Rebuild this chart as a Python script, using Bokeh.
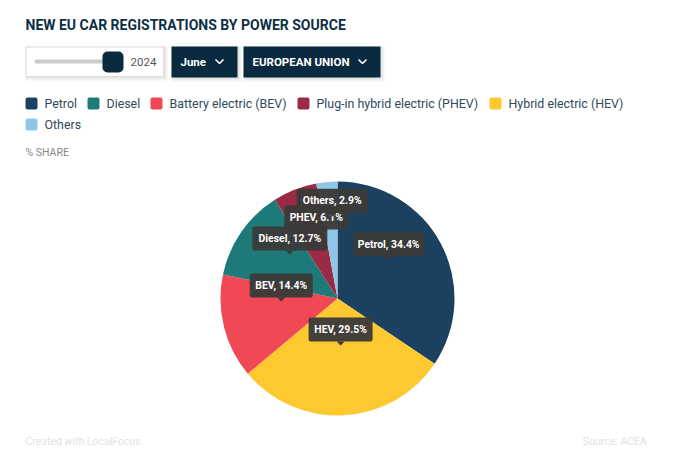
import numpy as np
from bokeh.core.properties import value
from bokeh.plotting import figure
from bokeh.embed import file_html
from bokeh.resources import INLINE
from bokeh.models import ColumnDataSource, Range1d

# clockwise from 12 o'clock
slices = ["Petrol", "HEV", "BEV", "Diesel", "PHEV", "Others"]
shares = [34.4, 29.5, 14.4, 12.7, 6.1, 2.9]
slice_colors = ["#1b4060", "#fdc830", "#f04854", "#1d7a78", "#9b2b45", "#8fc5e8"]

legend_names = ["Petrol", "Diesel", "Battery electric (BEV)",
                "Plug-in hybrid electric (PHEV)", "Hybrid electric (HEV)", "Others"]
legend_colors = ["#1b4060", "#1d7a78", "#f04854", "#9b2b45", "#fdc830", "#8fc5e8"]

FONT = "Roboto"
NAVY = "#0a2a40"
TIP = "#3a3a38"

p = figure(width=660, height=454, output_backend="svg", toolbar_location=None,
           x_range=Range1d(0, 660), y_range=Range1d(-454, 0),
           min_border=0, outline_line_color=None)
p.axis.visible = False
p.grid.visible = False


def label(x, y, txt, color, size, style="normal", align="left"):
    # y is in page pixels from the top, the range is negative so the pie keeps its angles
    p.text(x=[x], y=[-y], text=[txt], text_color=color, text_font=value(FONT),
           text_font_size=f"{size}px", text_font_style=style,
           text_align=align, text_baseline="middle")


def box(left, right, top, bottom, color, radius=0, **kw):
    p.quad(left=[left], right=[right], top=[-top], bottom=[-bottom], fill_color=color,
           line_color=kw.pop("line_color", None), border_radius=radius, **kw)


def chevron(x, y):
    p.line([x - 4, x, x + 4], [-y + 2, -y - 2, -y + 2], line_color="white", line_width=1.6)


label(25, 24, "NEW EU CAR REGISTRATIONS BY POWER SOURCE", "#0d2f44", 14, "bold")

# controls
for d in (4, 2):
    box(25, 163 + d, 46, 76 + d, "#000000", fill_alpha=0.05)
    box(171, 237 + d, 46, 77 + d, "#000000", fill_alpha=0.05)
    box(243, 380 + d, 46, 77 + d, "#000000", fill_alpha=0.05)
box(25.5, 163, 46.5, 76, "white", line_color="#dddddd")
box(34, 108, 59, 63, "#cccccc", radius=2)
box(102, 123, 51, 72, NAVY, radius=5)
label(130, 61, "2024", "#555555", 11.5)
box(171, 237, 46, 77, NAVY)
label(180, 61, "June", "white", 11.5, "bold")
chevron(219, 61)
box(243, 380, 46, 77, NAVY)
label(252, 61, "EUROPEAN UNION", "white", 11.5, "bold")
chevron(362, 61)

# legend
legend_x = [25, 87, 150, 297, 489, 25]
legend_y = [103, 103, 103, 103, 103, 124]
for name, color, lx, ly in zip(legend_names, legend_colors, legend_x, legend_y):
    box(lx, lx + 12, ly - 6, ly + 6, color, radius=2)
    label(lx + 19, ly, name, "#2f4a5c", 12.4)

label(25, 152, "% SHARE", "#888888", 10.5)

# pie
cx, cy, radius = 337, 298, 117
values = np.array(shares)
edges = np.concatenate([[0], np.cumsum(values)]) / values.sum() * 2 * np.pi
source = ColumnDataSource(data=dict(
    start=np.pi / 2 - edges[1:],
    end=np.pi / 2 - edges[:-1],
    color=slice_colors,
))
p.wedge(x=cx, y=-cy, radius=radius, start_angle="start", end_angle="end",
        fill_color="color", line_color=None, source=source)

# tooltips sit above each slice's middle, Others is pushed up clear of PHEV
tip_width = [71, 64, 63, 75, 64, 71]
tip_lift = [11, 11, 11, 11, 11, 24]
mids = (edges[:-1] + edges[1:]) / 2
for name, share, mid, w, lift in zip(slices, shares, mids, tip_width, tip_lift):
    tx = cx + 58 * np.sin(mid)
    ty = cy - 58 * np.cos(mid) - lift
    box(tx - w / 2, tx + w / 2, ty - 28, ty - 4, TIP, radius=2, fill_alpha=0.96)
    p.patch([tx - 4, tx + 4, tx], [-ty + 4, -ty + 4, -ty], fill_color=TIP, line_color=None)
    label(tx, ty - 16, f"{name}, {share}%", "white", 10.4, "bold", "center")

# footer
label(25, 441, "Created with LocalFocus", "#e2e2e2", 10.5)
label(649, 441, "Source:  ACEA", "#e2e2e2", 10.5, align="right")

open("out.html", "w").write(file_html(p, INLINE))
